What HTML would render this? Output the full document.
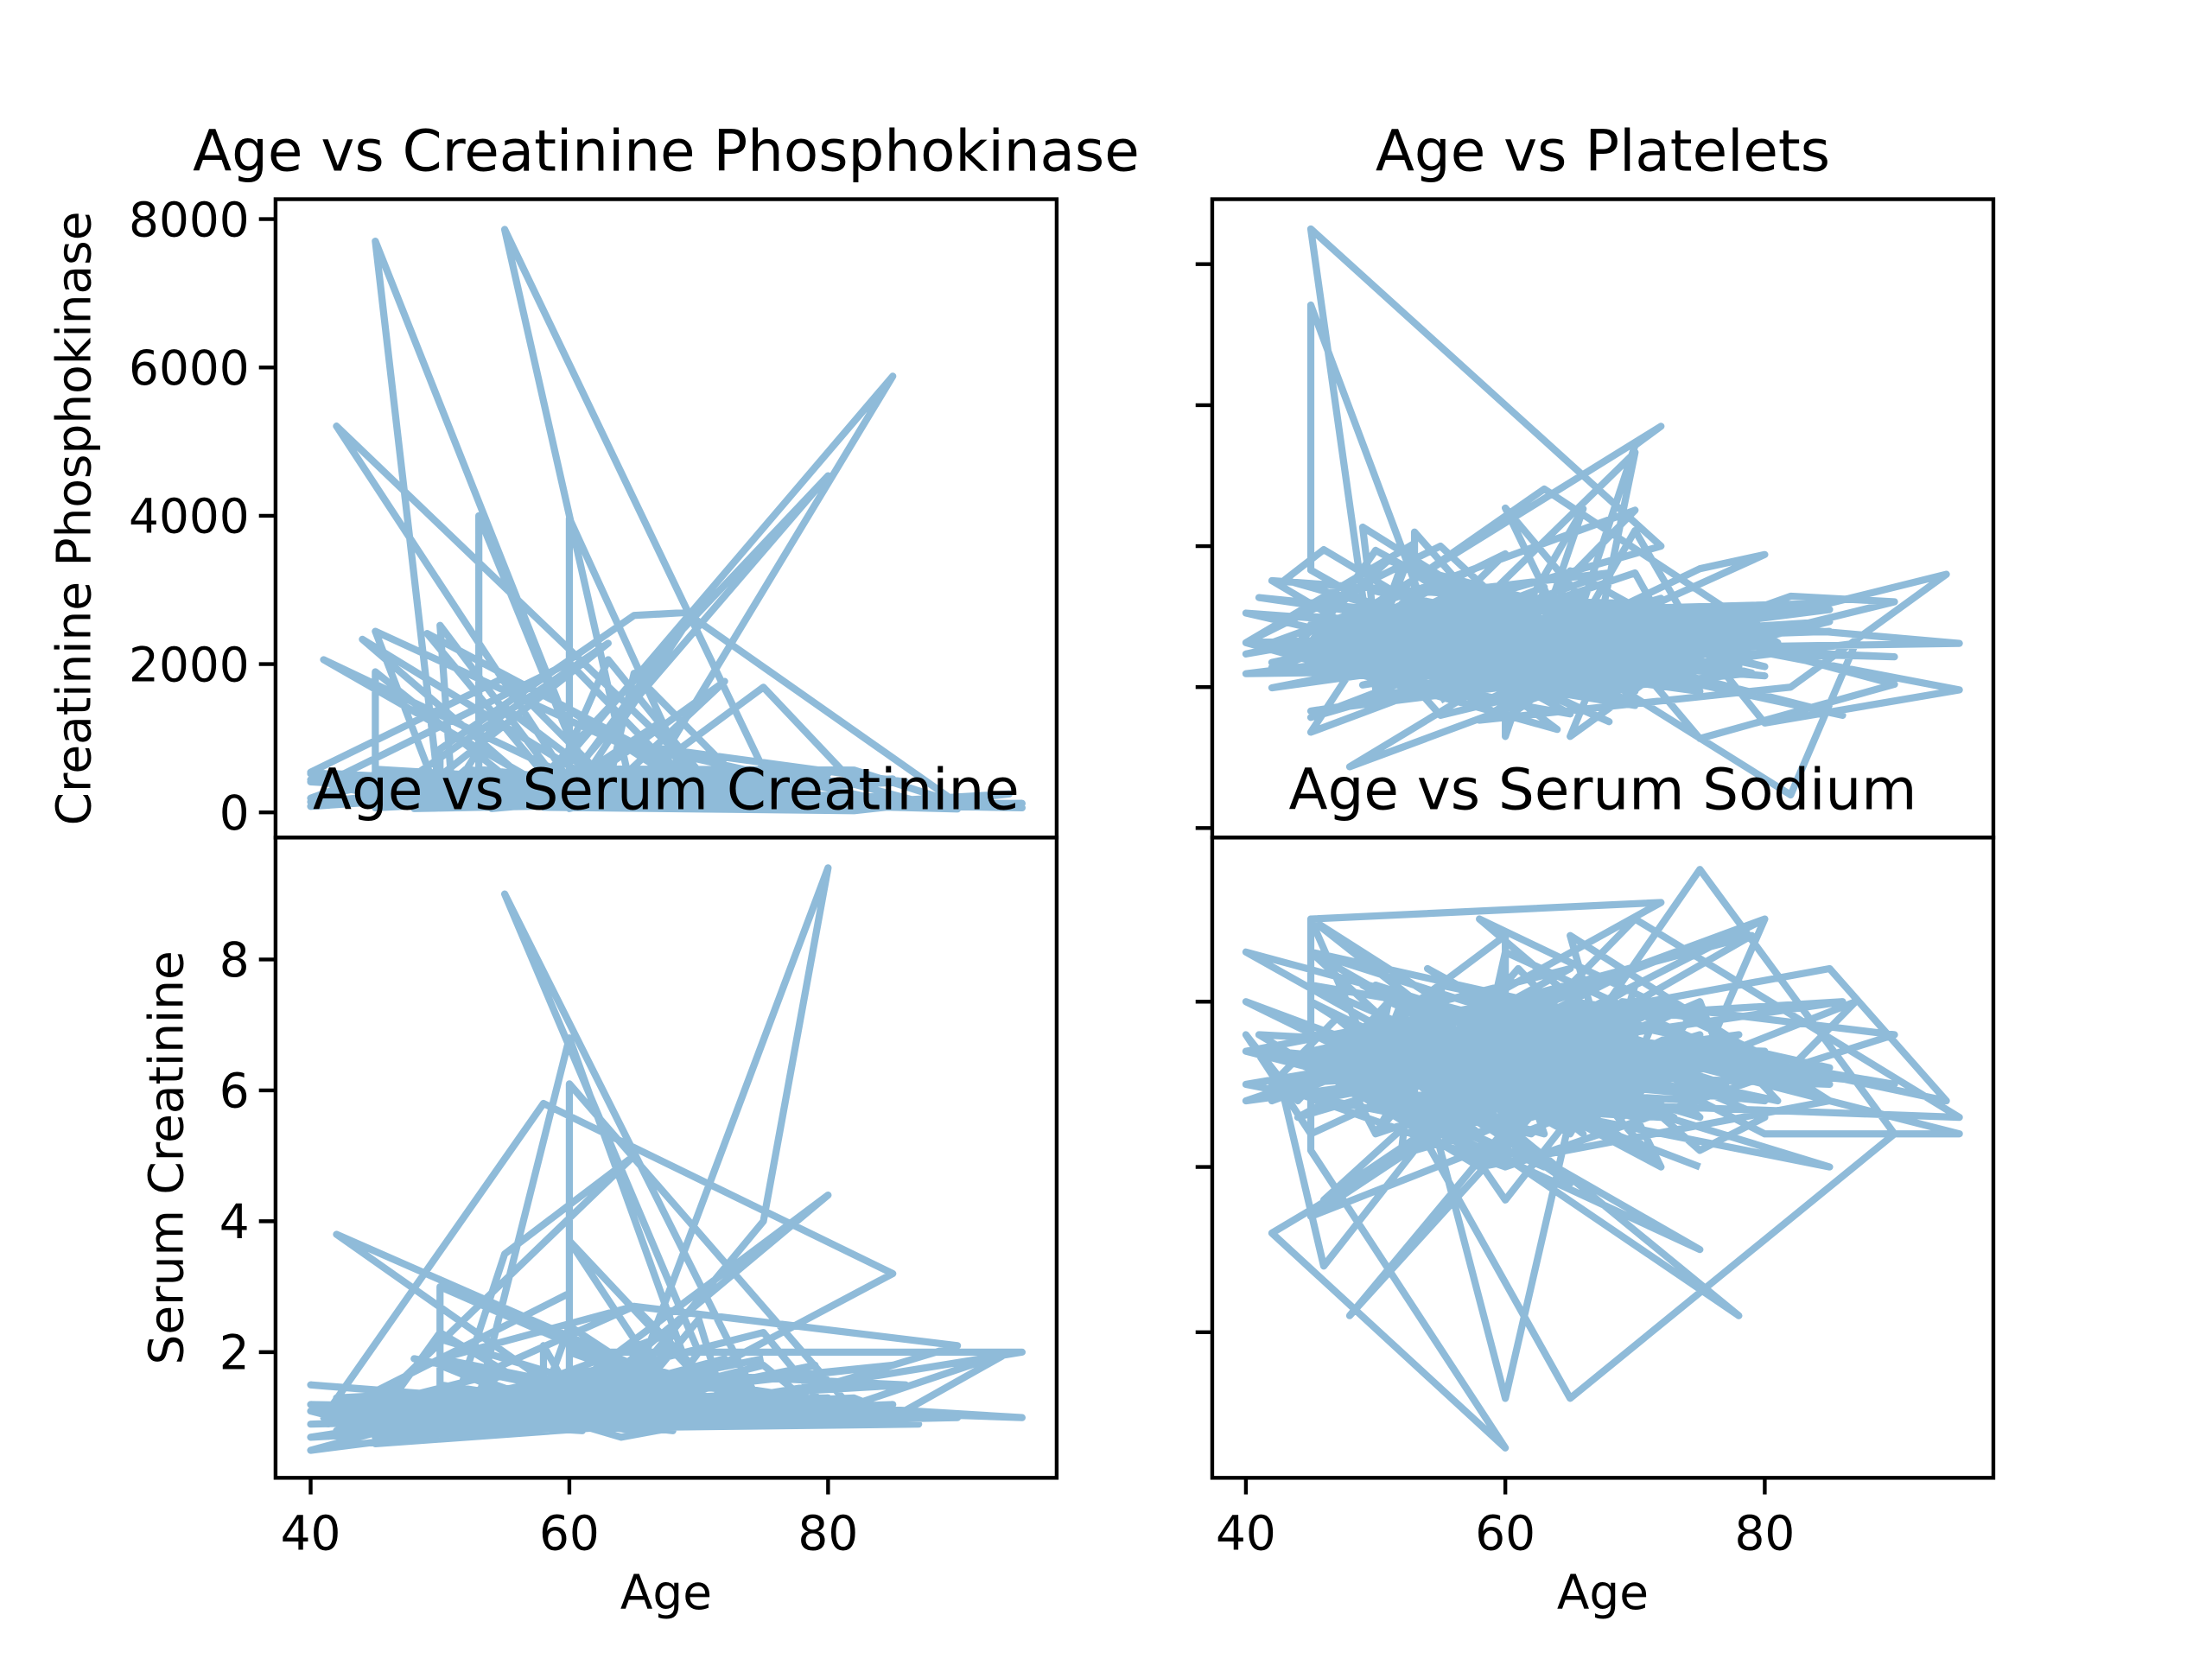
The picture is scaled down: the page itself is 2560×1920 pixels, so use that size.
<!DOCTYPE html>
<html><head><meta charset="utf-8"><style>
html,body{margin:0;padding:0;background:#fff;}
svg{display:block;}
text{font-family:"DejaVu Sans","Liberation Sans",sans-serif;fill:#000;}
</style></head><body>
<svg id="fig" width="2560" height="1920" viewBox="0 0 466.4 349.8" xmlns="http://www.w3.org/2000/svg">
<rect x="0" y="0" width="466.4" height="349.8" fill="#fff"/>
<defs>
<clipPath id="c0"><rect x="58.1" y="42.0" width="164.7" height="134.6"/></clipPath>
<clipPath id="c1"><rect x="255.6" y="42.0" width="164.7" height="134.6"/></clipPath>
<clipPath id="c2"><rect x="58.1" y="176.6" width="164.7" height="135.0"/></clipPath>
<clipPath id="c3"><rect x="255.6" y="176.6" width="164.7" height="135.0"/></clipPath>
</defs>
<g id="plots"></g>
</svg>
<script>
const ages=[75,55,65,50,65,90,75,60,65,80,75,62,45,50,49,82,87,45,70,48,65,65,68,53,75,80,95,70,58,82,94,85,50,50,65,69,90,82,60,60,70,50,70,72,60,50,51,60,80,57,68,53,60,70,60,95,70,60,49,72,45,50,55,45,45,60,42,72,70,65,41,58,85,65,69,60,70,42,75,55,70,67,60,79,59,51,55,65,44,57,70,60,42,60,58,58,63,70,60,63,65,75,80,42,60,72,55,45,63,45,85,55,50,70,60,58,60,85,65,86,60,66,60,60,60,43,46,58,61,53,53,60,46,63,81,75,65,68,62,50,80,46,50,61,72,50,52,64,75,60,72,62,50,50,65,60,52,50,85,59,66,45,63,50,45,80,53,59,65,70,51,52,70,50,65,60,69,49,63,55,40,59,65,75,58,60,50,60,60,40,80,64,50,73,45,77,45,65,50,60,63,45,70,60,78,50,40,85,60,49,70,50,78,48,65,73,70,54,68,55,73,65,42,47,58,75,58,55,65,72,60,70,40,53,53,77,75,70,65,55,70,65,40,73,54,61,55,64,40,53,50,55,50,70,53,52,65,58,45,53,55,62,65,68,61,50,55,56,45,40,44,51,67,42,60,45,70,70,50,55,70,70,42,65,50,55,60,45,65,90,45,60,52,63,62,55,45,45,50];
const cpk=[582,7861,146,111,160,47,246,315,157,123,81,231,7702,168,80,379,149,582,125,52,128,220,63,582,148,112,122,60,70,23,249,159,94,855,2656,2695,124,571,588,3964,582,260,119,224,582,2522,582,582,4540,582,582,582,582,2794,582,582,582,582,2413,582,2442,582,582,1896,582,582,5209,582,582,582,2060,582,5882,582,582,1380,582,582,582,582,582,1211,582,582,582,582,1419,582,2334,582,582,2017,582,582,582,582,2060,582,582,582,1876,582,582,582,582,582,582,582,582,582,582,582,582,582,582,582,582,582,910,582,582,582,582,582,582,582,582,582,582,4000,582,582,582,582,582,1688,582,582,582,582,582,582,582,582,582,582,582,582,582,582,1767,582,582,582,582,582,582,582,582,582,582,582,2281,582,582,582,582,582,582,582,582,582,582,582,582,582,582,582,582,1820,582,582,582,582,582,582,582,582,582,582,582,582,582,582,582,582,582,582,582,582,582,582,582,582,582,582,582,582,582,582,582,582,582,582,582,582,582,582,582,582,582,582,582,582,582,582,582,582,582,582,582,582,582,582,582,582,582,582,582,582,582,582,582,582,582,582,582,582,582,582,582,582,582,582,582,582,582,582,582,582,582,582,582,582,582,582,582,582,582,582,582,582,582,582,582,582,582,582,582,582,582,582,582,582,582,582,582,582,582,582,582];
const cpkVar=[0,0,0,0,0,0,0,0,0,0,0,0,0,0,0,0,0,0,0,0,0,0,0,0,0,0,0,0,0,0,0,0,0,0,0,0,0,0,0,0,-430,0,0,0,-370,0,-460,-100,0,-280,-500,-320,-150,0,-420,-520,-270,-480,0,-300,0,-410,-90,0,-450,-160,0,-390,-260,-510,0,-220,0,-470,-130,0,-340,-60,-400,-250,-520,0,-180,-440,-80,-300,0,-490,0,-200,-360,0,-110,-420,-270,-510,0,-30,-380,-240,0,-470,-140,-90,-430,-310,-500,-200,-360,-60,-480,-250,-410,-120,-530,-20,-330,-450,0,-170,-400,-280,-510,-80,-370,-230,-460,-140,0,-420,-300,-500,-50,-260,0,-390,-180,-470,-90,-340,-520,-210,-430,-120,-490,-280,-60,-400,0,-320,-160,-450,-240,-510,-70,-370,-200,-480,-130,-300,0,-440,-260,-90,-520,-190,-410,-30,-350,-470,-150,0,-380,-250,-500,-80,-430,-310,-170,-460,-40,-360,-220,-490,-110,-400,-290,-520,-160,-440,-60,-340,-230,-480,-120,-390,-270,-510,-90,-420,-200,-460,-30,-350,-180,-500,-140,-380,-260,-440,-70,-320,-210,-480,-100,-410,-290,-530,-150,-370,-50,-450,-240,-390,-120,-500,-280,-80,-430,-190,-470,-330,-60,-410,-230,-520,-140,-360,-270,-490,-20,-400,-170,-450,-310,-90,-380,-220,-500,-130,-430,-280,-60,-470,-190,-350,-510,-110,-400,-250,-460,-40,-330,-200,-480,-150,-420,-300,-70,-390,-240,-520,-100,-440,-180,-360,-500,-130,-410,-270,-60,-470,-220,-340,-490,-90,-380];
const platelets=[265,263,162,210,327,204,127,454,263,388,368,253,136,276,427,47,262,166,237,87,276,297,289,368,263,149,196,284,153,200,360,319,302,188,228,226,321,329,185,218,194,310,271,321,263,255,271,305,229,338,362,263,249,271,252,262,302,263,279,400,850,198,251,742,366,210,228,570,543,263,327,295,310,263,305,263,451,263,244,263,533,263,302,220,181,263,222,195,263,282,279,305,235,290,263,226,226,302,266,263,365,263,300,351,155,318,325,232,263,246,293,160,263,176,263,307,263,244,258,160,263,453,130,263,263,352,395,263,253,420,263,389,263,481,263,263,130,263,184,250,263,222,263,265,263,271,373,227,263,263,326,263,317,304,270,205,263,263,279,263,235,242,263,394,263,216,263,237,203,263,243,263,262,265,263,330,263,203,263,400,263,185,236,290,263,306,263,228,224,219,310,263,244,263,282,263,300,227,263,304,263,255,213,263,229,263,305,245,263,281,263,336,222,263,274,263,362,263,151,263,256,263,223,263,236,194,263,335,263,253,263,174,263,198,263,305,263,422,263,279,263,277,263,241,263,189,263,140,263,404,263,251,263,226,263,318,263,212,263,285,263,330,263,231,263,262,263,309,263,247,263,380,263,199,263,289,263,304,263,186,263,266,263,227,263,302,263,157,263,243,263,219,263,342,263,181];
const creatinine=[1.9,1.1,1.3,1.9,2.7,2.1,1.2,1.1,1.5,9.4,4.0,0.9,1.0,1.1,1.0,1.3,0.9,0.8,1.0,1.9,1.2,1.0,2.3,1.2,2.3,1.1,1.0,1.3,1.1,1.2,2.0,1.0,1.0,3.0,1.7,1.5,1.0,1.1,6.1,1.3,1.0,2.2,1.0,1.2,1.2,1.5,1.3,1.1,4.4,1.0,1.2,1.3,6.8,1.3,2.0,2.0,1.2,1.5,1.1,1.0,1.4,1.0,1.7,1.2,1.0,1.3,3.8,1.2,2.5,1.3,1.0,5.8,3.2,1.1,1.0,3.7,1.6,1.3,1.1,9.0,2.0,1.2,1.0,1.8,1.0,1.1,3.5,5.0,1.0,1.2,1.5,1.2,0.8,1.4,2.1,1.1,1.2,1.6,1.0,1.2,1.3,1.8,1.0,1.0,1.2,1.9,1.0,0.8,1.1,0.9,1.8,1.2,1.0,1.1,2.4,1.3,0.9,1.1,1.7,1.5,1.2,2.0,1.0,1.3,2.9,1.2,1.0,1.4,0.8,0.9,1.1,1.2,1.0,1.3,1.0,0.9,1.2,1.5,1.1,1.0,1.3,1.2,2.3,1.0,1.2,1.1,1.4,0.7,1.1,1.0,1.2,1.0,1.3,0.9,1.1,1.0,1.2,1.0,1.1,1.3,1.9,1.0,1.2,0.8,1.1,1.0,1.2,0.9,1.7,1.0,1.1,1.3,1.0,1.2,1.0,1.4,0.9,1.1,1.2,1.0,0.7,1.1,1.3,1.0,1.2,1.0,1.8,1.1,1.0,0.9,1.2,1.1,1.3,1.0,0.6,1.1,1.2,1.0,1.4,1.1,0.9,1.2,1.0,2.1,1.1,1.0,0.7,1.2,1.0,1.1,1.3,1.0,0.9,1.2,2.7,1.1,1.0,1.3,0.8,1.1,1.2,1.0,1.1,0.9,1.3,1.0,1.2,1.1,0.8,1.0,1.7,1.1,1.2,0.9,1.0,1.3,1.1,1.0,1.2,0.8,1.0,1.1,1.5,1.0,0.9,1.2,1.0,1.1,0.5,1.2,1.0,1.3,1.1,0.9,1.0,1.2,1.1,1.0,0.7,1.1,1.3,1.0,1.2,0.9,1.0,1.1,0.8,1.2,1.0,1.1,0.9,1.0,1.3,1.1,1.0,0.8,1.2,1.0,1.1,0.9,1.0,1.2,0.8,1.1,1.0,0.9,1.2,1.0,1.1,1.0,0.8,1.1,1.0,0.9,1.2,1.0,0.7];
const sodium=[130,136,129,137,116,132,148,131,138,133,131,140,137,137,138,136,140,127,140,121,137,136,136,135,134,132,132,137,145,136,134,142,137,136,135,140,138,136,130,134,140,137,133,134,135,136,140,137,145,138,134,136,128,138,134,133,145,137,136,146,145,136,140,145,131,113,126,140,136,137,138,130,134,144,133,136,135,137,125,134,141,133,140,144,135,137,140,142,133,136,133,138,135,138,133,136,140,135,137,138,134,136,145,134,140,135,133,136,130,143,136,141,138,137,134,136,143,134,139,140,137,136,133,140,144,134,124,136,138,131,135,138,128,137,134,139,140,136,132,134,137,138,132,142,133,134,139,136,140,135,130,139,134,137,133,116,140,136,135,138,132,145,134,139,136,137,131,140,135,133,138,134,136,141,132,139,137,135,130,138,134,136,140,133,137,135,139,132,140,137,134,136,141,133,138,135,143,134,137,139,132,136,140,134,138,135,137,130,136,141,133,139,121,137,135,138,134,142,136,133,140,137,135,139,132,138,134,136,141,130,137,139,135,133,138,136,140,134,137,135,139,132,143,136,134,138,137,133,140,135,136,139,134,142,138,131,137,135,140,136,133,138,134,139,137,135,141,136,132,138,134,140,137,135,130,136,139,133,138,134,137,140,135,136,132,139,138,134,137,135,141,136,133,139,134,138];
const xTickVals=[40,60,80];
const cpkTicks=[0,2000,4000,6000,8000];
const creatTicks=[2,4,6,8];
const platTicks=[0,200,400,600,800];
const sodTicks=[120,130,140];

function xMapL(a){return 65.5+(a-40)*2.7275;}
function xMapR(a){return 262.7+(a-40)*2.735;}
function yCpk(v){return 171.3-v*0.015637;}
function yCreat(v){return 285.1-(v-2)*13.8;}
function yPlat(v){return 174.6-v*0.148625;}
function ySod(v){return 211.2+(140-v)*3.485;}

const NS='http://www.w3.org/2000/svg';
const root=document.getElementById('plots');
function mk(tag,attrs,parent){const e=document.createElementNS(NS,tag);for(const k in attrs)e.setAttribute(k,attrs[k]);(parent||root).appendChild(e);return e;}

const cpkVals=cpk.map((v,i)=>v===582?Math.max(30,582+cpkVar[i]):v);

function panel(name,clip,box,xf,yf,vals,yticks,ylabels,title,titleY,ylabel,ylabelX,showX){
  const g=mk('g',{});
  
  
  let d='';
  for(let i=0;i<ages.length;i++){d+=(i?'L':'M')+xf(ages[i]).toFixed(2)+','+yf(vals[i]).toFixed(2);}
  const p=mk('path',{d:d,fill:'none',stroke:'#8fbbd9','stroke-width':'1.5','stroke-linejoin':'round','clip-path':'url(#'+clip+')'},g);
  
  
  const r=mk('rect',{x:box[0],y:box[1],width:box[2],height:box[3],fill:'none',stroke:'#000','stroke-width':'0.8'},g);
  
  
  yticks.forEach((t,i)=>{
    const y=yf(t);
    mk('line',{x1:box[0],x2:box[0]-3.5,y1:y,y2:y,stroke:'#000','stroke-width':'0.8'},g);
    if(ylabels){
      const tx=mk('text',{x:box[0]-5.5,y:y+3.6,'font-size':'10','text-anchor':'end'},g);
      
      
      tx.textContent=String(t);
    }
  });
  if(showX){
    xTickVals.forEach(t=>{
      const x=xf(t);
      mk('line',{x1:x,x2:x,y1:box[1]+box[3],y2:box[1]+box[3]+3.5,stroke:'#000','stroke-width':'0.8'},g);
      const tx=mk('text',{x:x,y:box[1]+box[3]+15.2,'font-size':'10','text-anchor':'middle'},g);
      
      
      tx.textContent=String(t);
    });
    const xl=mk('text',{x:box[0]+box[2]/2,y:339.2,'font-size':'10','text-anchor':'middle'},g);
    
    
    xl.textContent='Age';
  }
  const tt=mk('text',{x:box[0]+box[2]/2,y:titleY,'font-size':'12','text-anchor':'middle'},g);
  
  
  tt.textContent=title;
  if(ylabel){
    const yl=mk('text',{x:0,y:0,'font-size':'10','text-anchor':'middle',transform:'translate('+ylabelX+','+(box[1]+box[3]/2)+') rotate(-90)'},g);
    
    
    yl.textContent=ylabel;
  }
}
panel('panel-cpk','c0',[58.1,42.0,164.7,134.6],xMapL,yCpk,cpkVals,cpkTicks,true,'Age vs Creatinine Phosphokinase',36.0,'Creatinine Phosphokinase',19.0,false);
panel('panel-platelets','c1',[255.6,42.0,164.7,134.6],xMapR,yPlat,platelets,platTicks,false,'Age vs Platelets',36.0,null,0,false);
panel('panel-creatinine','c2',[58.1,176.6,164.7,135.0],xMapL,yCreat,creatinine,creatTicks,false,'Age vs Serum Creatinine',170.6,'Serum Creatinine',38.5,true);
panel('panel-sodium','c3',[255.6,176.6,164.7,135.0],xMapR,ySod,sodium,sodTicks,false,'Age vs Serum Sodium',170.6,null,0,true);
creatTicks.forEach(t=>{
  const tx=mk('text',{x:52.6,y:yCreat(t)+3.6,'font-size':'10','text-anchor':'end'});
  
  
  tx.textContent=String(t);
});
</script>
</body></html>
